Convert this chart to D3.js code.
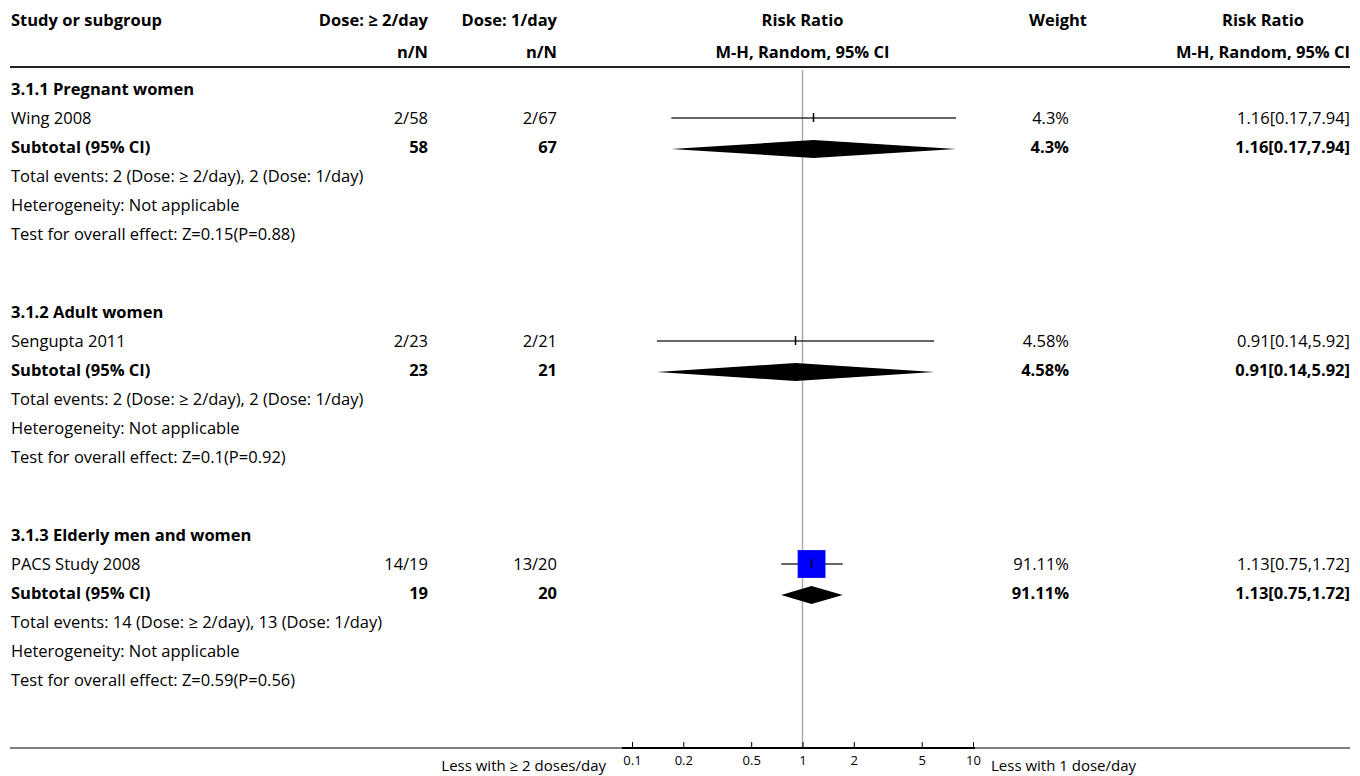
<!DOCTYPE html>
<html>
<head>
<meta charset="utf-8">
<script src="https://d3js.org/d3.v7.min.js"></script>
<style>
  body { margin: 0; background: #fff; }
  text { font-family: "Open Sans", "Noto Sans", sans-serif; font-size: 16.5px; fill: #000; }
  .b { font-weight: bold; }
</style>
</head>
<body>
<div id="chart"></div>
<script>
// ---- data ----
var groups   = ["3.1.1 Pregnant women", "3.1.2 Adult women", "3.1.3 Elderly men and women"];
var studies  = ["Wing 2008", "Sengupta 2011", "PACS Study 2008"];
var evHigh   = [2, 2, 14];
var nHigh    = [58, 23, 19];
var evLow    = [2, 2, 13];
var nLow     = [67, 21, 20];
var weights  = [4.3, 4.58, 91.11];
var rr       = [1.16, 0.91, 1.13];
var rrLo     = [0.17, 0.14, 0.75];
var rrHi     = [7.94, 5.92, 1.72];
var zVals    = ["0.15", "0.1", "0.59"];
var pVals    = ["0.88", "0.92", "0.56"];
var tickVals = [0.1, 0.2, 0.5, 1, 2, 5, 10];

var W = 1360, H = 776;
var svg = d3.select("#chart").append("svg").attr("width", W).attr("height", H);

// columns
var colLabel = 11, colHigh = 428, colLow = 557, colW = 1069, colRR = 1350, colRRHead = 1263;
var axisY = 748;

var x = d3.scaleLog().domain([0.1, 10]).range([632, 973]);
var sq = d3.scaleLinear().domain([0, 100]).range([0, 30.5]);

// row positions: group g, row r
var top0 = 89, rowH = 29, blockH = 223;
function rowY(g, r) { return top0 + g * blockH + r * rowH; }

function txt(xp, yp, s, anchor, bold) {
  return svg.append("text").attr("x", xp).attr("y", yp).attr("dy", "0.35em")
    .attr("text-anchor", anchor || "start").attr("class", bold ? "b" : null).text(s);
}

// header
txt(colLabel, 20, "Study or subgroup", "start", true);
txt(colHigh, 20, "Dose: \u2265 2/day", "end", true);
txt(colLow, 20, "Dose: 1/day", "end", true);
txt(x(1), 20, "Risk Ratio", "middle", true);
txt(1058, 20, "Weight", "middle", true);
txt(colRRHead, 20, "Risk Ratio", "middle", true);
txt(colHigh, 52, "n/N", "end", true);
txt(colLow, 52, "n/N", "end", true);
txt(x(1), 52, "M-H, Random, 95% CI", "middle", true);
txt(colRRHead, 52, "M-H, Random, 95% CI", "middle", true);

svg.append("line").attr("x1", 10).attr("x2", 1350).attr("y1", 67).attr("y2", 67)
  .attr("stroke", "#222").attr("stroke-width", 2);

// null line
svg.append("line").attr("x1", x(1)).attr("x2", x(1)).attr("y1", 70).attr("y2", axisY)
  .attr("stroke", "#aaa").attr("stroke-width", 1.5);

groups.forEach(function(gname, g) {
  var ciTxt = rr[g].toFixed(2) + "[" + rrLo[g].toFixed(2) + "," + rrHi[g].toFixed(2) + "]";
  txt(colLabel, rowY(g, 0), gname, "start", true);

  // study row
  var y1 = rowY(g, 1);
  txt(colLabel, y1, studies[g]);
  txt(colHigh, y1, evHigh[g] + "/" + nHigh[g], "end");
  txt(colLow, y1, evLow[g] + "/" + nLow[g], "end");
  txt(colW, y1, weights[g] + "%", "end");
  txt(colRR, y1, ciTxt, "end");
  svg.append("line").attr("x1", x(rrLo[g])).attr("x2", x(rrHi[g])).attr("y1", y1).attr("y2", y1)
    .attr("stroke", "#333").attr("stroke-width", 1.5);
  var s = sq(weights[g]);
  svg.append("rect").attr("x", x(rr[g]) - s / 2).attr("y", y1 - s / 2)
    .attr("width", s).attr("height", s).attr("fill", "#0000ff");
  svg.append("line").attr("x1", x(rr[g])).attr("x2", x(rr[g])).attr("y1", y1 - 5).attr("y2", y1 + 4)
    .attr("stroke", "#000").attr("stroke-width", 1.5);

  // subtotal row
  var y2 = rowY(g, 2);
  txt(colLabel, y2, "Subtotal (95% CI)", "start", true);
  txt(colHigh, y2, nHigh[g], "end", true);
  txt(colLow, y2, nLow[g], "end", true);
  txt(colW, y2, weights[g] + "%", "end", true);
  txt(colRR, y2, ciTxt, "end", true);
  var dh = 9;
  svg.append("path")
    .attr("d", "M" + x(rrLo[g]) + "," + (y2 + 2) + "L" + x(rr[g]) + "," + (y2 + 2 - dh) +
               "L" + x(rrHi[g]) + "," + (y2 + 2) + "L" + x(rr[g]) + "," + (y2 + 2 + dh) + "Z")
    .attr("fill", "#000");

  txt(colLabel, rowY(g, 3), "Total events: " + evHigh[g] + " (Dose: \u2265 2/day), " + evLow[g] + " (Dose: 1/day)");
  txt(colLabel, rowY(g, 4), "Heterogeneity: Not applicable");
  txt(colLabel, rowY(g, 5), "Test for overall effect: Z=" + zVals[g] + "(P=" + pVals[g] + ")");
});

// bottom rule and axis
svg.append("line").attr("x1", 10).attr("x2", 1350).attr("y1", axisY).attr("y2", axisY)
  .attr("stroke", "#555").attr("stroke-width", 1.5);

var ax = svg.append("g").attr("transform", "translate(0," + axisY + ")")
  .call(d3.axisBottom(x).tickValues(tickVals).tickFormat(d3.format("")).tickSize(-6).tickSizeOuter(0).tickPadding(8));
ax.select(".domain").attr("d", "M" + (x(0.1) - 10) + ",0H" + (x(10) + 2)).attr("stroke", "#000").attr("stroke-width", 2);
ax.selectAll(".tick line").attr("stroke", "#000");
ax.selectAll(".tick text").style("font-size", "13px").style("font-family", "\"Open Sans\", sans-serif");

txt(606, 766, "Less with \u2265 2 doses/day", "end").style("font-size", "15px");
txt(991, 766, "Less with 1 dose/day", "start").style("font-size", "15px");
</script>
</body>
</html>
